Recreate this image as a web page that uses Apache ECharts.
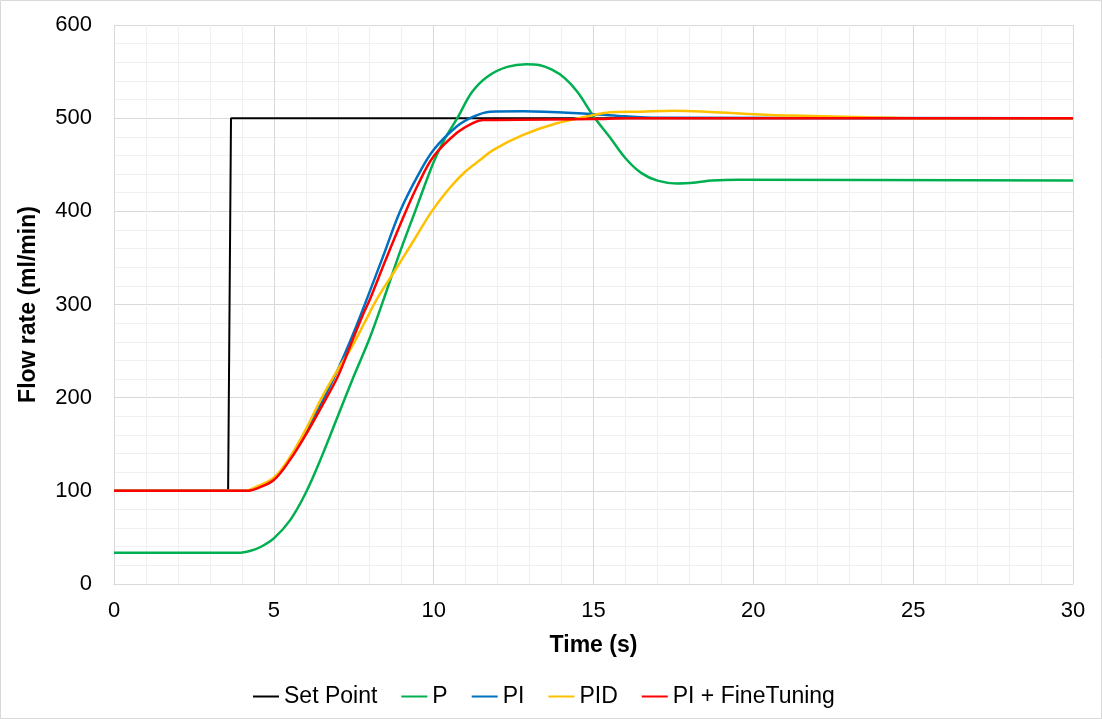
<!DOCTYPE html>
<html>
<head>
<meta charset="utf-8">
<title>Flow rate</title>
<script src="https://cdn.jsdelivr.net/npm/echarts@6/dist/echarts.min.js"></script>
<style>
html,body{margin:0;padding:0;background:#fff;}
#main{width:1102px;height:719px;}
</style>
</head>
<body>
<div id="main"></div>
<script>
//数据
var seriesNames = ['Set Point', 'P', 'PI', 'PID', 'PI + FineTuning'];
var seriesColors = ['#000000', '#00b050', '#0070c0', '#ffc000', '#ff0000'];

var spX = [0, 3.57, 3.66, 30];
var spY = [100, 100, 500, 500];

var pX = [0, 3.9, 4.3, 4.6, 5, 5.5, 6, 6.5, 7, 7.5, 8, 8.43, 8.9, 9.42, 10, 10.35, 10.74, 11.2, 11.7, 12.3, 12.9, 13.3, 13.7, 14.1, 14.5, 15, 15.5, 16, 16.5, 17, 17.6, 18.2, 18.7, 19.5, 30];
var pY = [33.5, 33.5, 36, 40, 49, 68, 98, 137, 180, 223, 264, 305, 352, 400, 453, 478, 500, 528, 545, 555, 558, 557, 552, 543, 528, 502, 480, 457, 441, 433, 430, 431, 433, 434, 433];

var piX = [0, 4.1, 4.5, 5, 5.5, 6, 6.5, 7, 7.5, 7.9, 8.4, 8.95, 9.5, 10, 10.72, 11.24, 11.76, 12.8, 14.9, 16, 17, 30];
var piY = [100, 100, 104, 112, 134, 164, 195, 230, 270, 305, 350, 400, 438, 466, 491, 501.6, 507, 507.5, 504.5, 502, 500.5, 500];

var pidX = [0, 4.1, 4.5, 5, 5.5, 6, 6.5, 7, 7.38, 7.8, 8.21, 8.8, 9.4, 9.94, 10.5, 11, 11.45, 11.87, 12.8, 13.85, 14.9, 15.4, 16.5, 17.5, 18.5, 19.6, 20.5, 21.5, 23.5, 25, 30];
var pidY = [100, 100, 105, 114, 136, 166, 200, 230, 251, 278, 305, 337, 370, 400, 425, 443, 455, 466, 482, 494.5, 502.6, 505.9, 507, 508, 507, 505, 503.5, 502.6, 501, 500, 500];

var ftX = [0, 4.15, 4.5, 5, 5.5, 6.03, 6.65, 7.02, 7.5, 7.8, 8, 8.5, 9.13, 9.5, 10, 10.72, 11.24, 11.55, 15, 16, 30];
var ftY = [100, 100, 103, 111.6, 133, 162, 200, 224, 265, 290, 305, 348, 400, 428, 459, 484, 495, 498, 499, 500, 500];

var xTicks = [0, 5, 10, 15, 20, 25, 30];
var yTicks = [0, 100, 200, 300, 400, 500, 600];

function pairs(xs, ys) {
	var out = [];
	for (var i = 0; i < xs.length; i++) {
		out.push([xs[i], ys[i]]);
	}
	return out;
}

var allData = [pairs(spX, spY), pairs(pX, pY), pairs(piX, piY), pairs(pidX, pidY), pairs(ftX, ftY)];

var myChart = echarts.init(document.getElementById('main'));
var fontName = 'Liberation Sans, Arial, sans-serif';

var series = [];
for (var k = 0; k < seriesNames.length; k++) {
	series.push({
		name: seriesNames[k],
		type: 'line',
		data: allData[k],
		showSymbol: false,
		smooth: k == 0 ? false : 0.35,
		lineStyle: { color: seriesColors[k], width: k == 0 ? 2 : 2.5 },
		itemStyle: { color: seriesColors[k] },
		z: 2 + k,
		animation: false
	});
}

var option = {
	backgroundColor: '#fff',
	textStyle: { fontFamily: fontName },
	//外框
	graphic: [{
		type: 'rect',
		shape: { x: 0.5, y: 0.5, width: 1101, height: 718 },
		style: { fill: 'none', stroke: '#d9d9d9', lineWidth: 1 },
		silent: true
	}],
	legend: {
		top: 680,
		left: 248,
		icon: 'rect',
		itemWidth: 26,
		itemHeight: 2,
		itemGap: 24,
		textStyle: { fontSize: 23, color: '#000', fontFamily: fontName },
		data: seriesNames
	},
	grid: {
		left: 114,
		right: 29,
		top: 25,
		bottom: 135
	},
	xAxis: {
		type: 'value',
		min: xTicks[0],
		max: xTicks[xTicks.length - 1],
		interval: 5,
		name: 'Time (s)',
		nameLocation: 'middle',
		nameGap: 50,
		nameTextStyle: { fontSize: 23, fontWeight: 'bold', color: '#000', fontFamily: fontName },
		axisLine: { show: true, lineStyle: { color: '#d9d9d9', width: 1 } },
		axisTick: { show: false },
		axisLabel: { fontSize: 22, color: '#000', margin: 16, fontFamily: fontName },
		splitLine: { show: true, lineStyle: { color: '#d9d9d9', width: 1 } },
		minorTick: { show: false, splitNumber: 5 },
		minorSplitLine: { show: true, lineStyle: { color: '#f0f0f0', width: 1 } }
	},
	yAxis: {
		type: 'value',
		min: yTicks[0],
		max: yTicks[yTicks.length - 1],
		interval: 100,
		name: 'Flow rate (ml/min)',
		nameLocation: 'middle',
		nameGap: 74,
		nameRotate: 90,
		nameTextStyle: { fontSize: 23, fontWeight: 'bold', color: '#000', fontFamily: fontName },
		axisLine: { show: false },
		axisTick: { show: false },
		axisLabel: { fontSize: 22, color: '#000', margin: 22, fontFamily: fontName },
		splitLine: { show: true, lineStyle: { color: '#d9d9d9', width: 1 } },
		minorTick: { show: false, splitNumber: 5 },
		minorSplitLine: { show: true, lineStyle: { color: '#f0f0f0', width: 1 } }
	},
	series: series
};

if (option && typeof option === "object") {
	myChart.setOption(option, true);
}
</script>
</body>
</html>
